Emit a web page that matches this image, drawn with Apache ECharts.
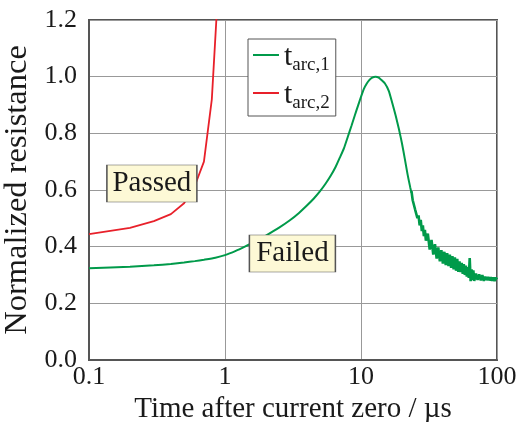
<!DOCTYPE html>
<html>
<head>
<meta charset="utf-8">
<script src="https://cdn.jsdelivr.net/npm/echarts@6/dist/echarts.min.js"></script>
<style>html,body{margin:0;padding:0;background:#fff}#c{width:521px;height:422px}</style>
</head>
<body>
<div id="c"></div>
<script>
// ---- data ----
var xTicks = [0.1, 1, 10, 100];
var yTicks = [0.0, 0.2, 0.4, 0.6, 0.8, 1.0, 1.2];
var seriesNames = ['tarc,1', 'tarc,2'];
var seriesSubs = ['arc,1', 'arc,2'];

// t_arc,1 smooth part
var greenX = [0.1, 0.2, 0.3, 0.4, 0.5, 0.6, 0.7, 0.85, 1.0, 1.2, 1.4, 1.7, 2.0, 2.5, 3.0, 3.5, 4.0, 4.5, 5.0, 5.5, 6.0, 6.5, 7.0, 7.5, 8.0, 8.5, 9.0, 9.5, 10, 10.5, 11, 11.5, 12, 12.8, 13.5, 14, 15, 16, 17, 18, 19, 20, 21, 22, 23, 23.5];
var greenY = [0.324, 0.329, 0.334, 0.339, 0.344, 0.349, 0.354, 0.361, 0.370, 0.385, 0.400, 0.420, 0.439, 0.467, 0.493, 0.519, 0.545, 0.570, 0.596, 0.623, 0.651, 0.681, 0.715, 0.748, 0.788, 0.826, 0.863, 0.897, 0.929, 0.957, 0.975, 0.988, 0.996, 1.000, 0.997, 0.990, 0.976, 0.950, 0.906, 0.862, 0.815, 0.765, 0.710, 0.655, 0.610, 0.590];
// t_arc,1 noisy tail
var noiseX = [23.5, 24, 24.5, 25, 25.5, 26, 26.5, 27, 27.5, 28, 28.5, 29, 29.5, 30, 31, 32, 33, 34, 35, 36, 37, 38, 39, 40, 41, 42, 43, 44, 45, 46, 47, 48, 49, 50, 51, 52, 53, 54, 55, 56, 57, 58, 59, 60, 61, 62, 63, 64, 65, 66, 67, 68, 70, 72, 74, 76, 78, 80, 82, 84, 86, 88, 90, 92, 94, 96, 98, 100];
var noiseY = [0.596, 0.564, 0.558, 0.531, 0.533, 0.501, 0.510, 0.475, 0.495, 0.455, 0.475, 0.437, 0.459, 0.421, 0.446, 0.390, 0.424, 0.372, 0.409, 0.358, 0.397, 0.348, 0.388, 0.340, 0.382, 0.335, 0.377, 0.331, 0.372, 0.325, 0.367, 0.320, 0.362, 0.315, 0.357, 0.311, 0.348, 0.310, 0.343, 0.304, 0.338, 0.300, 0.333, 0.294, 0.328, 0.290, 0.360, 0.278, 0.320, 0.282, 0.316, 0.279, 0.305, 0.283, 0.302, 0.281, 0.300, 0.279, 0.294, 0.282, 0.293, 0.281, 0.292, 0.280, 0.291, 0.279, 0.291, 0.284];
// t_arc,2
var redX = [0.1, 0.2, 0.3, 0.4, 0.5, 0.6, 0.7, 0.8, 0.9];
var redY = [0.444, 0.466, 0.490, 0.515, 0.553, 0.615, 0.700, 0.920, 1.350];

// annotations
var annotTexts = ['Passed', 'Failed'];
var annotX = [0.29, 3.13];
var annotY = [0.623, 0.376];

function pairs(xs, ys) { return xs.map(function (x, i) { return [x, ys[i]]; }); }

var SERIF = '"Liberation Serif", "DejaVu Serif", serif';
var GREEN = '#009a4a';
var RED = '#e8202a';

var boxStyle = { color: '#fdf9d6', borderColor: '#555', borderWidth: 1 };
var boxLabel = { show: true, position: 'inside', fontFamily: SERIF, fontSize: 29, color: '#1a1a1a', formatter: function (p) { return p.name; } };

var chart = echarts.init(document.getElementById('c'), null, { renderer: 'canvas' });
chart.setOption({
  backgroundColor: '#ffffff',
  animation: false,
  grid: { left: 89, right: 24, top: 20, bottom: 62, outerBoundsMode: 'none', containLabel: false, show: true, borderColor: '#555', borderWidth: 2, backgroundColor: 'transparent' },
  xAxis: {
    type: 'log', logBase: 10, min: xTicks[0], max: xTicks[xTicks.length - 1],
    name: 'Time after current zero / \u00b5s', nameLocation: 'middle', nameGap: 24,
    nameTextStyle: { fontFamily: SERIF, fontSize: 29, color: '#1a1a1a' },
    axisLine: { show: true, lineStyle: { color: '#555', width: 2 } },
    axisTick: { show: false },
    minorTick: { show: false },
    splitLine: { show: true, lineStyle: { color: '#999', width: 1 } },
    axisLabel: {
      margin: 4, fontFamily: SERIF, fontSize: 26, color: '#1a1a1a',
      formatter: function (v) {
        for (var i = 0; i < xTicks.length; i++) { if (Math.abs(v - xTicks[i]) / xTicks[i] < 1e-6) return String(xTicks[i]); }
        return '';
      }
    }
  },
  yAxis: {
    type: 'value', min: yTicks[0], max: yTicks[yTicks.length - 1], interval: 0.2,
    name: 'Normalized resistance', nameLocation: 'middle', nameGap: 47,
    nameTextStyle: { fontFamily: SERIF, fontSize: 32.5, color: '#1a1a1a' },
    axisLine: { show: true, lineStyle: { color: '#555', width: 2 } },
    axisTick: { show: false },
    splitLine: { show: true, lineStyle: { color: '#999', width: 1 } },
    axisLabel: {
      margin: 12, fontFamily: SERIF, fontSize: 26, color: '#1a1a1a',
      formatter: function (v) { return v.toFixed(1); }
    }
  },
  legend: {
    orient: 'vertical', left: 248, top: 39,
    data: seriesNames,
    icon: 'path://M0,0 L26,0 L26,2 L0,2 Z M0,12 L0.01,12 L0.01,12.01 Z',
    itemWidth: 26, itemHeight: 12, itemGap: 5,
    padding: [3, 6, 3, 5],
    backgroundColor: '#ffffff', borderColor: '#555', borderWidth: 1, borderRadius: 0,
    formatter: function (name) {
      var idx = seriesNames.indexOf(name);
      return '{t|t}{s|' + seriesSubs[idx] + '}';
    },
    textStyle: {
      rich: {
        t: { fontFamily: SERIF, fontSize: 30, color: '#1a1a1a', verticalAlign: 'bottom', lineHeight: 30, padding: [0, 0, 3, 0] },
        s: { fontFamily: SERIF, fontSize: 19, color: '#1a1a1a', verticalAlign: 'bottom', lineHeight: 19 }
      }
    }
  },
  series: [
    {
      name: seriesNames[0], type: 'line', data: pairs(greenX, greenY), smooth: 0.2, symbol: 'none',
      lineStyle: { color: GREEN, width: 2 }, itemStyle: { color: GREEN }, z: 3,
      markPoint: {
        symbol: 'rect', symbolSize: [86, 37], silent: true, z: 10,
        itemStyle: boxStyle, label: boxLabel,
        data: [{ name: annotTexts[1], coord: [annotX[1], annotY[1]] }]
      }
    },
    {
      name: seriesNames[0], type: 'line', data: pairs(noiseX, noiseY), symbol: 'none',
      lineStyle: { color: GREEN, width: 2.6 }, itemStyle: { color: GREEN }, z: 3
    },
    {
      name: seriesNames[1], type: 'line', data: pairs(redX, redY), symbol: 'none',
      lineStyle: { color: RED, width: 1.8 }, itemStyle: { color: RED }, z: 3,
      markPoint: {
        symbol: 'rect', symbolSize: [90, 37], silent: true, z: 10,
        itemStyle: boxStyle, label: boxLabel,
        data: [{ name: annotTexts[0], coord: [annotX[0], annotY[0]] }]
      }
    }
  ]
});
</script>
</body>
</html>
